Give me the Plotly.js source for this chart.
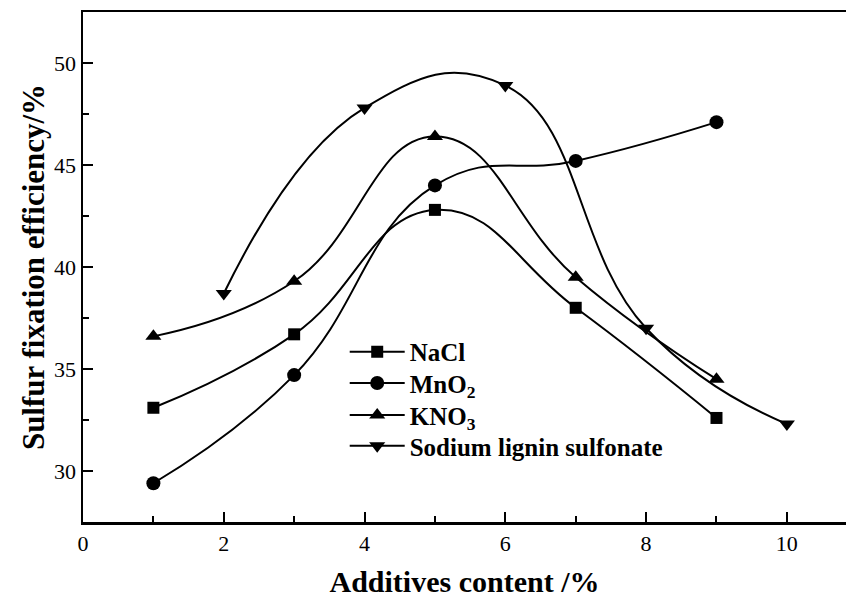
<!DOCTYPE html>
<html>
<head>
<meta charset="utf-8">
<script src="https://cdn.plot.ly/plotly-3.0.1.min.js"></script>
<style>html,body{margin:0;padding:0;background:#fff;}#chart{width:846px;height:598px;}</style>
</head>
<body>
<div id="chart"></div>
<script>
const xOdd = [1, 3, 5, 7, 9];
const xEven = [2, 4, 6, 8, 10];
const nacl = [33.1, 36.7, 42.8, 38.0, 32.6];
const mno2 = [29.4, 34.7, 44.0, 45.2, 47.1];
const kno3 = [36.6, 39.3, 46.4, 39.5, 34.5];
const sodium = [38.7, 47.8, 48.9, 37.0, 32.3];
const names = ['NaCl', 'MnO<sub>2</sub>', 'KNO<sub>3</sub>', 'Sodium lignin sulfonate'];

const lineStyle = {color: '#000', width: 2, shape: 'spline', smoothing: 1.3};
function tr(x, y, name, symbol, size, leg) {
  return {x: x, y: y, name: name, type: 'scatter', mode: 'lines+markers', legend: leg,
    line: lineStyle, marker: {symbol: symbol, size: size, color: '#000'}};
}
const data = [
  tr(xOdd, nacl, names[0], 'square', 12, 'legend'),
  tr(xOdd, mno2, names[1], 'circle', 14, 'legend2'),
  tr(xOdd, kno3, names[2], 'triangle-up', 14, 'legend3'),
  tr(xEven, sodium, names[3], 'triangle-down', 14, 'legend4')
];
const serif = '"Liberation Serif", "Times New Roman", serif';
function leg(y) {
  return {x: 0.343, y: y, xanchor: 'left', yanchor: 'middle', itemwidth: 55,
    bgcolor: 'rgba(0,0,0,0)', font: {family: serif, size: 25, color: '#000', weight: 'bold'}};
}
const layout = {
  width: 846, height: 598,
  margin: {l: 83, r: 0, t: 12, b: 76},
  paper_bgcolor: '#fff', plot_bgcolor: '#fff',
  font: {family: serif, color: '#000', size: 22},
  showlegend: true,
  legend: leg(0.3335), legend2: leg(0.2721), legend3: leg(0.2093), legend4: leg(0.149),
  xaxis: {range: [0, 10.84], showgrid: false, zeroline: false,
    showline: true, linecolor: '#000', linewidth: 2.5, mirror: true,
    ticks: 'inside', ticklen: 10, tickwidth: 2, tickcolor: '#000',
    tick0: 0, dtick: 2, tickfont: {family: serif, size: 22},
    minor: {ticks: 'inside', ticklen: 6, tickwidth: 2, tickcolor: '#000', dtick: 1, tick0: 0},
    title: {text: 'Additives content /%', font: {family: serif, size: 30, weight: 'bold'}, standoff: 16}},
  yaxis: {range: [27.5, 52.5], showgrid: false, zeroline: false,
    showline: true, linecolor: '#000', linewidth: 2.5,
    ticks: 'inside', ticklen: 10, tickwidth: 2, tickcolor: '#000',
    tick0: 30, dtick: 5, tickfont: {family: serif, size: 22},
    minor: {ticks: 'inside', ticklen: 6, tickwidth: 2, tickcolor: '#000', dtick: 2.5, tick0: 30},
    title: {text: 'Sulfur fixation efficiency/%', font: {family: serif, size: 31, weight: 'bold'}, standoff: 0}}
};
Plotly.newPlot('chart', data, layout, {displayModeBar: false, staticPlot: true});
</script>
</body>
</html>
